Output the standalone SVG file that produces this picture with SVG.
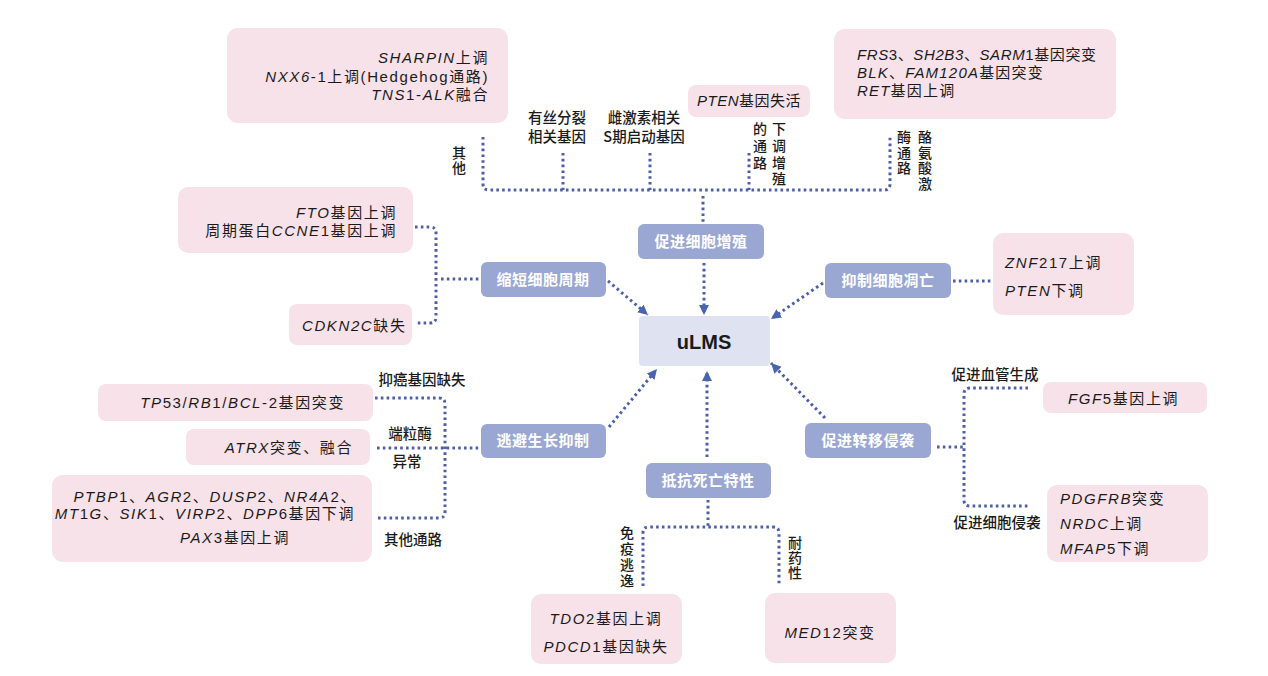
<svg xmlns="http://www.w3.org/2000/svg" width="1268" height="676" viewBox="0 0 1268 676">
<style>
.pk{fill:#f8e2ea}
.bl{fill:#9ba7d3}
.bt{fill:#ffffff;font-family:"Noto Sans CJK SC",sans-serif;font-size:15px;font-weight:bold;text-anchor:middle;letter-spacing:0.5px}
.gt{font-family:"Liberation Sans","Noto Sans CJK SC",sans-serif;font-size:15px;fill:#1a1a1a;letter-spacing:1.6px}
.i{font-style:italic}
.lb{font-family:"Noto Sans CJK SC",sans-serif;font-size:14.5px;fill:#1a1a1a;font-weight:500}
.vt{font-family:"Noto Sans CJK SC",sans-serif;font-size:14px;fill:#1a1a1a;font-weight:500;writing-mode:vertical-rl}
.m{text-anchor:middle}
.e{text-anchor:end}
.dl{stroke:#4d5ea8;stroke-width:3;stroke-dasharray:2.6 3.2;fill:none}
</style>
<defs>
<marker id="ah" markerUnits="userSpaceOnUse" markerWidth="12" markerHeight="12" refX="10" refY="5" orient="auto">
<path d="M0,0 L10,5 L0,10 z" fill="#4a64b0"/>
</marker>
</defs>
<rect width="1268" height="676" fill="#ffffff"/>

<g id="connectors">
<path class="dl" d="M483,137 V184 Q483,190 489,190 H884 Q890,190 890,184 V135"/>
<path class="dl" d="M563,153 V190 M650,153 V190 M749,153 V190 M703,196 V223"/>
<path class="dl" d="M415,227 H430 Q436,227 436,233 V317 Q436,323 430,323 H417 M441,279 H479"/>
<path class="dl" d="M375,398 H439 Q445,398 445,404 V512 Q445,518 439,518 H377 M377,448 H479"/>
<path class="dl" d="M708,500 V527 M643,586 V533 Q643,527 649,527 H773 Q779,527 779,533 V586"/>
<path class="dl" d="M1028,388 H970 Q964,388 964,394 V500 Q964,506 970,506 H1030 M937,447 H964"/>
<path class="dl" d="M953,281 H992"/>
<path class="dl" marker-end="url(#ah)" d="M608,281 L648,315"/>
<path class="dl" marker-end="url(#ah)" d="M704,263 V315"/>
<path class="dl" marker-end="url(#ah)" d="M823,283 L771,319"/>
<path class="dl" marker-end="url(#ah)" d="M609,427 L657,369"/>
<path class="dl" marker-end="url(#ah)" d="M707,457 V371"/>
<path class="dl" marker-end="url(#ah)" d="M825,418 L771,363"/>
</g>

<g id="labels">
<text class="vt" x="459" y="146" font-size="13" letter-spacing="1">其他</text>
<text class="lb m" x="557" y="123">有丝分裂</text>
<text class="lb m" x="557" y="142">相关基因</text>
<text class="lb m" x="644" y="123">雌激素相关</text>
<text class="lb m" x="644" y="142">S期启动基因</text>
<text class="vt" x="760" y="122" letter-spacing="2.7">的通路</text>
<text class="vt" x="779" y="122" letter-spacing="2.7">下调增殖</text>
<text class="vt" x="904" y="130" letter-spacing="1.5">酶通路</text>
<text class="vt" x="925" y="130" letter-spacing="1.5">酪氨酸激</text>
<text class="lb m" x="422" y="385">抑癌基因缺失</text>
<text class="lb m" x="410" y="439">端粒酶</text>
<text class="lb m" x="407" y="467">异常</text>
<text class="lb m" x="413" y="545">其他通路</text>
<text class="vt" x="627" y="526" letter-spacing="2">免疫逃逸</text>
<text class="vt" x="795" y="536" letter-spacing="1">耐药性</text>
<text class="lb m" x="995" y="380">促进血管生成</text>
<text class="lb m" x="997" y="528">促进细胞侵袭</text>
</g>

<g id="uLMS">
<rect x="639" y="316" width="131" height="50" rx="4" fill="#dfe2f0"/>
<text x="704" y="349" font-family="Liberation Sans,sans-serif" font-size="20" font-weight="bold" fill="#1a1a1a" text-anchor="middle">uLMS</text>
</g>

<g id="cat-proliferation">
<rect class="bl" x="638" y="224" width="126" height="35" rx="6"/>
<text class="bt" x="701" y="247">促进细胞增殖</text>
</g>
<g id="cat-apoptosis">
<rect class="bl" x="825" y="263" width="126" height="35" rx="6"/>
<text class="bt" x="888" y="286">抑制细胞凋亡</text>
</g>
<g id="cat-cycle">
<rect class="bl" x="481" y="262" width="125" height="35" rx="6"/>
<text class="bt" x="543" y="285">缩短细胞周期</text>
</g>
<g id="cat-growth">
<rect class="bl" x="481" y="424" width="125" height="34" rx="6"/>
<text class="bt" x="543" y="446">逃避生长抑制</text>
</g>
<g id="cat-death">
<rect class="bl" x="646" y="463" width="125" height="35" rx="6"/>
<text class="bt" x="708" y="486">抵抗死亡特性</text>
</g>
<g id="cat-metastasis">
<rect class="bl" x="805" y="423" width="126" height="35" rx="6"/>
<text class="bt" x="868" y="446">促进转移侵袭</text>
</g>

<g id="box-other">
<rect class="pk" x="227" y="28" width="281" height="95" rx="11"/>
<text class="gt e" x="489" y="63"><tspan class="i">SHARPIN</tspan>上调</text>
<text class="gt e" x="489" y="82"><tspan class="i">NXX6</tspan>-1上调(Hedgehog通路)</text>
<text class="gt e" x="489" y="100"><tspan class="i">TNS</tspan>1-<tspan class="i">ALK</tspan>融合</text>
</g>
<g id="box-pten">
<rect class="pk" x="688" y="85" width="122" height="32" rx="8"/>
<text class="gt m" x="749" y="106" style="letter-spacing:0.5px"><tspan class="i">PTEN</tspan>基因失活</text>
</g>
<g id="box-tyrosine">
<rect class="pk" x="834" y="29" width="282" height="90" rx="11"/>
<text class="gt" x="857" y="60" style="letter-spacing:0.6px"><tspan class="i">FRS</tspan>3、<tspan class="i">SH2B3</tspan>、<tspan class="i">SARM</tspan>1基因突变</text>
<text class="gt" x="857" y="78" style="letter-spacing:1.2px"><tspan class="i">BLK</tspan>、<tspan class="i">FAM120A</tspan>基因突变</text>
<text class="gt" x="857" y="96" style="letter-spacing:1.2px"><tspan class="i">RET</tspan>基因上调</text>
</g>
<g id="box-fto">
<rect class="pk" x="178" y="187" width="235" height="66" rx="10"/>
<text class="gt e" x="397" y="218"><tspan class="i">FTO</tspan>基因上调</text>
<text class="gt e" x="397" y="236">周期蛋白<tspan class="i">CCNE</tspan>1基因上调</text>
</g>
<g id="box-cdkn2c">
<rect class="pk" x="289" y="304" width="123" height="41" rx="8"/>
<text class="gt" x="302" y="331"><tspan class="i">CDKN2C</tspan>缺失</text>
</g>
<g id="box-znf217">
<rect class="pk" x="993" y="233" width="141" height="82" rx="10"/>
<text class="gt" x="1005" y="268"><tspan class="i">ZNF</tspan>217上调</text>
<text class="gt" x="1005" y="296"><tspan class="i">PTEN</tspan>下调</text>
</g>
<g id="box-tp53">
<rect class="pk" x="98" y="384" width="275" height="37" rx="8"/>
<text class="gt e" x="345" y="408"><tspan class="i">TP</tspan>53/<tspan class="i">RB</tspan>1/<tspan class="i">BCL</tspan>-2基因突变</text>
</g>
<g id="box-atrx">
<rect class="pk" x="186" y="429" width="184" height="36" rx="8"/>
<text class="gt e" x="353" y="453"><tspan class="i">ATRX</tspan>突变、融合</text>
</g>
<g id="box-ptbp1">
<rect class="pk" x="52" y="475" width="320" height="87" rx="11"/>
<text class="gt e" x="357" y="502"><tspan class="i">PTBP</tspan>1、<tspan class="i">AGR</tspan>2、<tspan class="i">DUSP</tspan>2、<tspan class="i">NR4A</tspan>2、</text>
<text class="gt e" x="355" y="519"><tspan class="i">MT</tspan>1<tspan class="i">G</tspan>、<tspan class="i">SIK</tspan>1、<tspan class="i">VIRP</tspan>2、<tspan class="i">DPP</tspan>6基因下调</text>
<text class="gt" x="180" y="543"><tspan class="i">PAX</tspan>3基因上调</text>
</g>
<g id="box-fgf5">
<rect class="pk" x="1043" y="382" width="164" height="31" rx="8"/>
<text class="gt" x="1068" y="404"><tspan class="i">FGF</tspan>5基因上调</text>
</g>
<g id="box-pdgfrb">
<rect class="pk" x="1047" y="485" width="161" height="77" rx="10"/>
<text class="gt" x="1060" y="504"><tspan class="i">PDGFRB</tspan>突变</text>
<text class="gt" x="1060" y="529"><tspan class="i">NRDC</tspan>上调</text>
<text class="gt" x="1060" y="554"><tspan class="i">MFAP</tspan>5下调</text>
</g>
<g id="box-tdo2">
<rect class="pk" x="531" y="594" width="151" height="70" rx="10"/>
<text class="gt m" x="606" y="624"><tspan class="i">TDO</tspan>2基因上调</text>
<text class="gt m" x="606" y="652"><tspan class="i">PDCD</tspan>1基因缺失</text>
</g>
<g id="box-med12">
<rect class="pk" x="765" y="593" width="131" height="70" rx="10"/>
<text class="gt m" x="830" y="638"><tspan class="i">MED</tspan>12突变</text>
</g>
</svg>
